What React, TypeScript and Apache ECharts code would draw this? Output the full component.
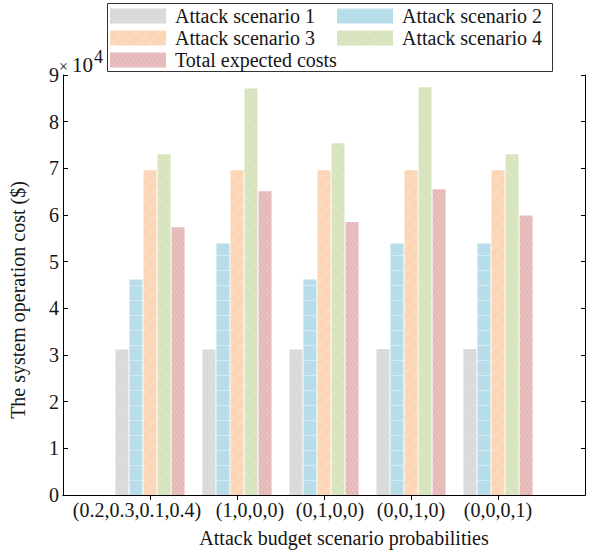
import React, { useEffect, useRef } from 'react';
import * as echarts from 'echarts';

const categories = ['(0.2,0.3,0.1,0.4)', '(1,0,0,0)', '(0,1,0,0)', '(0,0,1,0)', '(0,0,0,1)'];
const scenario1 = [31200, 31200, 31200, 31300, 31300];
const scenario2 = [46200, 53900, 46200, 53900, 53900];
const scenario3 = [69600, 69600, 69600, 69600, 69600];
const scenario4 = [73000, 87100, 75400, 87400, 73000];
const totalCosts = [57400, 65100, 58500, 65500, 59900];
const yTickValues = [0, 1, 2, 3, 4, 5, 6, 7, 8, 9];
const yScale = 10000;

const labelShift = [-13, 13, 6, 0, 0];
const FONT = '"Liberation Serif", "Times New Roman", serif';
const TXT = '#161616';

export default function App() {
  const ref = useRef<HTMLDivElement>(null);
  useEffect(() => {
    if (!ref.current) return;
    const chart = echarts.init(ref.current, undefined, { renderer: 'svg' });
    const pad = (arr: number[]) => ['-', ...arr, '-'];
    const xData = [
      ' ',
      ...categories.map((c, i) => ({
        value: c,
        textStyle: {
          padding: labelShift[i] < 0 ? [0, -2 * labelShift[i], 0, 0] : [0, 0, 0, 2 * labelShift[i]],
        },
      })),
      '  ',
    ];
    const ymax = yTickValues[yTickValues.length - 1] * yScale;
    const common = {
      type: 'bar',
      barWidth: 13,
      barGap: '8%',
    };
    const legendCommon = {
      orient: 'vertical',
      top: 6,
      padding: 0,
      icon: 'rect',
      itemWidth: 56,
      itemHeight: 15,
      itemGap: 2,
      textStyle: { fontFamily: FONT, fontSize: 20, color: TXT, padding: [0, 0, 0, 4] },
    };
    const option: any = {
      animation: false,
      textStyle: { fontFamily: FONT, color: TXT },
      grid: { left: 58, top: 75, width: 534, height: 420 },
      legend: [
        {
          ...legendCommon,
          left: 110,
          data: ['Attack scenario 1', 'Attack scenario 3', 'Total expected costs'],
        },
        {
          ...legendCommon,
          left: 337,
          data: ['Attack scenario 2', 'Attack scenario 4'],
        },
      ],
      xAxis: [
        {
          type: 'category',
          data: xData,
          boundaryGap: false,
          name: 'Attack budget scenario probabilities',
          nameLocation: 'middle',
          nameGap: 33,
          nameTextStyle: { fontFamily: FONT, fontSize: 20, color: TXT, padding: [0, 0, 0, 40] },
          axisLine: { show: true, lineStyle: { color: '#000', width: 1 } },
          axisTick: {
            show: true,
            inside: true,
            length: 5,
            interval: (i: number) => i > 0 && i < categories.length + 1,
            lineStyle: { color: '#000' },
          },
          axisLabel: { interval: 0, fontFamily: FONT, fontSize: 20, color: TXT, margin: 5 },
          splitLine: { show: false },
        },
        {
          type: 'category',
          data: xData,
          boundaryGap: false,
          position: 'top',
          axisLine: { show: true, lineStyle: { color: '#000', width: 1 } },
          axisTick: {
            show: true,
            inside: true,
            length: 5,
            interval: (i: number) => i > 0 && i < categories.length + 1,
            lineStyle: { color: '#000' },
          },
          axisLabel: { show: false },
          splitLine: { show: false },
        },
      ],
      yAxis: [
        {
          type: 'value',
          min: 0,
          max: ymax,
          interval: yScale,
          name: 'The system operation cost ($)',
          nameLocation: 'middle',
          nameGap: 35,
          nameTextStyle: { fontFamily: FONT, fontSize: 20, color: TXT, padding: [0, 30, 0, 0] },
          axisLine: { show: true, lineStyle: { color: '#000', width: 1 } },
          axisTick: { show: true, inside: true, length: 5, lineStyle: { color: '#000' } },
          axisLabel: {
            fontFamily: FONT,
            fontSize: 20,
            color: TXT,
            margin: 4,
            formatter: (v: number) => String(Math.round(v / yScale)),
          },
          splitLine: { show: false },
        },
        {
          type: 'value',
          min: 0,
          max: ymax,
          interval: yScale,
          position: 'right',
          axisLine: { show: true, lineStyle: { color: '#000', width: 1 } },
          axisTick: { show: true, inside: true, length: 4, lineStyle: { color: '#000' } },
          axisLabel: { show: false },
          splitLine: { show: false },
        },
      ],
      graphic: [
        {
          type: 'rect',
          shape: { x: 107.5, y: 3.5, width: 445, height: 68 },
          style: { fill: '#fff', stroke: '#333', lineWidth: 1 },
          z: -1,
          silent: true,
        },
        {
          type: 'text',
          left: 59,
          top: 58,
          style: { text: '×', fontFamily: FONT, fontSize: 16, fill: TXT },
        },
        {
          type: 'text',
          left: 72,
          top: 54,
          style: { text: '10', fontFamily: FONT, fontSize: 21, fill: TXT },
        },
        {
          type: 'text',
          left: 94,
          top: 48,
          style: { text: '4', fontFamily: FONT, fontSize: 18, fill: TXT },
        },
      ],
      series: [
        {
          ...common,
          name: 'Attack scenario 1',
          data: pad(scenario1),
          itemStyle: {
            color: '#d9d9d9',
            decal: {
              symbol: 'circle',
              symbolSize: 0.7,
              color: 'rgba(255,255,255,0.35)',
              dashArrayX: [[2, 2], [0, 2, 2, 0]],
              dashArrayY: [2, 1],
            },
          },
        },
        {
          ...common,
          name: 'Attack scenario 2',
          data: pad(scenario2),
          itemStyle: {
            color: '#b7dde8',
            decal: {
              symbol: 'rect',
              symbolSize: 1,
              color: 'rgba(255,255,255,0.4)',
              dashArrayX: [[1, 0]],
              dashArrayY: [1, 14],
            },
          },
        },
        {
          ...common,
          name: 'Attack scenario 3',
          data: pad(scenario3),
          itemStyle: {
            color: '#fcd5b5',
            decal: {
              symbol: 'rect',
              symbolSize: 1,
              color: 'rgba(255,255,255,0.12)',
              dashArrayX: [[1, 0]],
              dashArrayY: [3, 6],
              rotation: -Math.PI / 4,
            },
          },
        },
        {
          ...common,
          name: 'Attack scenario 4',
          data: pad(scenario4),
          itemStyle: {
            color: '#d7e4bd',
            decal: {
              symbol: 'rect',
              symbolSize: 1,
              color: 'rgba(255,255,255,0.2)',
              dashArrayX: [[1, 0]],
              dashArrayY: [1, 6],
              rotation: Math.PI / 4,
            },
          },
        },
        {
          ...common,
          name: 'Total expected costs',
          data: pad(totalCosts),
          itemStyle: {
            color: '#e6b9b8',
            decal: {
              symbol: 'circle',
              symbolSize: 0.7,
              color: 'rgba(255,255,255,0.3)',
              dashArrayX: [[2, 2], [0, 2, 2, 0]],
              dashArrayY: [2, 1],
            },
          },
        },
      ],
    };
    chart.setOption(option);
    return () => chart.dispose();
  }, []);
  return (
    <div
      ref={ref}
      style={{ position: 'fixed', left: 0, top: 0, width: 593, height: 558, background: '#fff' }}
    />
  );
}
